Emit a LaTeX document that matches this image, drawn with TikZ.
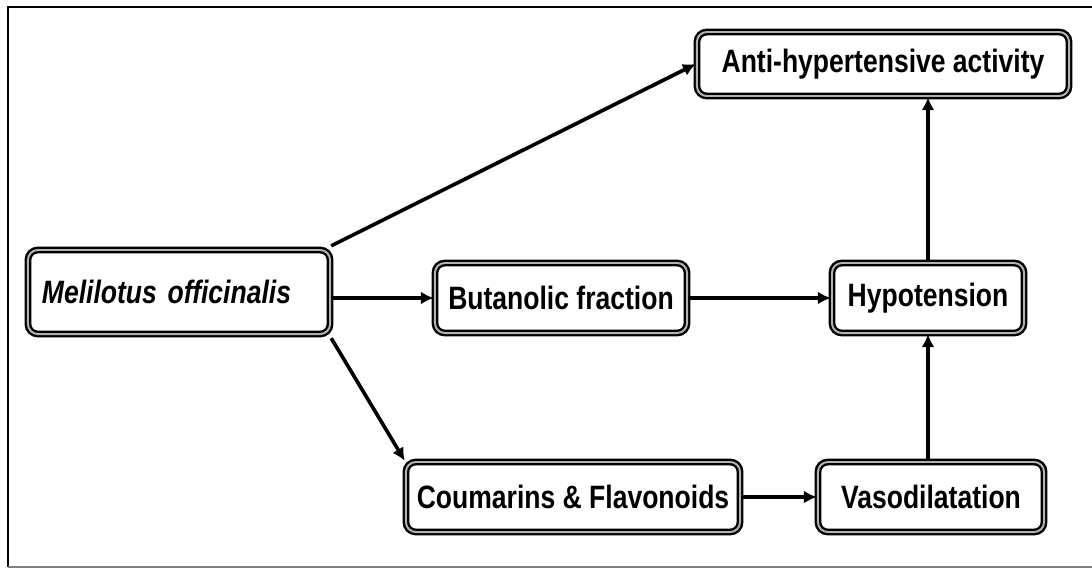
\documentclass[tikz,border=0pt]{standalone}
\usepackage{fontspec}
\setmainfont{Liberation Sans}[FakeStretch=0.82]
\usepackage{tikz}
\usetikzlibrary{arrows.meta, positioning}

\begin{document}
\begin{tikzpicture}[
        x=0.025cm, y=-0.025cm,
        every node/.style={font=\fontsize{23}{27}\selectfont\bfseries},
        box/.style={rectangle, rounded corners=7pt, draw=black, line width=1.7pt,
            double=gray!60, double distance=1.4pt, fill=white,
            minimum height=1.75cm, align=center, inner sep=2pt},
        arrow/.style={-{Latex[length=3.2mm, width=3.2mm]}, line width=2.6pt}
    ]
        \useasboundingbox (0,0) rectangle (1092,568);
        % frame
        \draw[line width=1.8pt] (1100,7) -- (8,7) -- (8,567);
        \draw[line width=1.4pt, gray] (8,567) -- (1100,567);
        % boxes
        \node[box, minimum width=7.55cm, minimum height=2.1cm, text width=6.85cm, align=left] (melilotus) at (179,292) {\itshape Melilotus officinalis};
        \node[box, minimum width=6.3cm] (butanolic) at (561,298) {Butanolic fraction};
        \node[box, minimum width=4.8cm] (hypotension) at (928,298) {Hypotension};
        \node[box, minimum width=9.3cm, minimum height=1.6cm] (activity) at (883,64) {Anti-hypertensive activity};
        \node[box, minimum width=8.35cm] (coumarins) at (573,497) {Coumarins \& Flavonoids};
        \node[box, minimum width=5.65cm] (vaso) at (931,497) {Vasodilatation};
        % arrows
        \draw[arrow] (melilotus.north east) ++(0,-3) -- (activity.west);
        \draw[arrow] (melilotus.east |- butanolic) -- (butanolic.west);
        \draw[arrow] (melilotus.south east) ++(0,3) -- (coumarins.north west);
        \draw[arrow] (butanolic) -- (hypotension);
        \draw[arrow] (coumarins) -- (vaso);
        \draw[arrow] (vaso.north -| hypotension) -- (hypotension.south);
        \draw[arrow] (hypotension) -- (hypotension |- activity.south);
    \end{tikzpicture}
\end{document}
